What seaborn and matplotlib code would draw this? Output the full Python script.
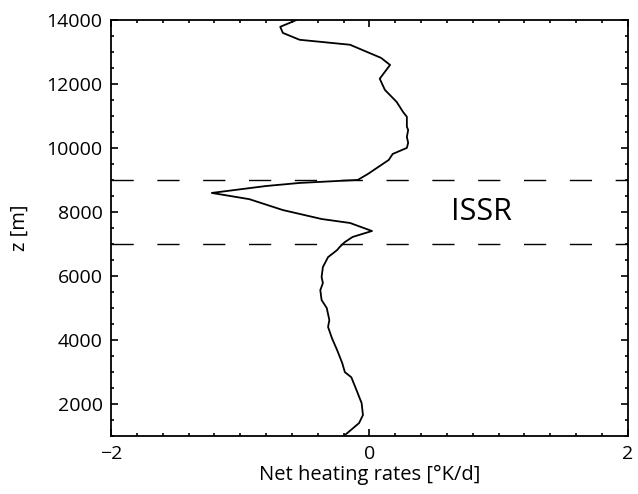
import matplotlib
matplotlib.use("Agg")
import matplotlib.pyplot as plt
import seaborn as sns
from matplotlib.ticker import MultipleLocator

# net heating rate profile (bottom -> top)
heating = [-0.20, -0.08, -0.05, -0.06, -0.10, -0.14, -0.19, -0.21, -0.25, -0.29,
           -0.32, -0.31, -0.33, -0.37, -0.38, -0.36, -0.37, -0.36, -0.32, -0.25,
           -0.23, -0.19, -0.13, 0.02, -0.15, -0.37, -0.67, -0.93, -1.22, -0.80,
           -0.54, -0.09, -0.01, 0.15, 0.18, 0.29, 0.30, 0.29, 0.30, 0.29,
           0.29, 0.26, 0.21, 0.12, 0.08, 0.16, 0.09, -0.15, -0.54, -0.67,
           -0.69, -0.56]
height = [1000, 1410, 1660, 2030, 2440, 2840, 3000, 3280, 3690, 4060,
          4410, 4625, 5000, 5250, 5560, 5780, 5970, 6280, 6590, 6810,
          6906, 7060, 7220, 7406, 7656, 7780, 8060, 8400, 8594, 8810,
          8906, 9000, 9190, 9625, 9810, 10000, 10160, 10340, 10560, 10660,
          10970, 11125, 11440, 11810, 12160, 12590, 12810, 13220, 13375, 13590,
          13780, 14000]

# ice supersaturated region bounds
issr_bounds = [7000, 9000]

sns.set_theme(style="ticks")
plt.rcParams['font.family'] = ['Open Sans', 'DejaVu Sans']
plt.rcParams['text.color'] = 'black'
plt.rcParams['axes.labelcolor'] = 'black'

fig = plt.figure(figsize=(6.38, 4.94), dpi=100)
ax = fig.add_axes([0.174, 0.117, 0.810, 0.843])

sns.lineplot(x=heating, y=height, sort=False, estimator=None, color="black",
             linewidth=1.3, ax=ax)

for b in issr_bounds:
    ax.axhline(b, color="black", linewidth=1.0, dashes=(16, 17))

ax.text(0.87, 8000, "ISSR", fontsize=22, ha="center", va="center")

ax.set_xlim(-2, 2)
ax.set_ylim(1000, 14000)
ax.set_xticks([-2, 0, 2])
ax.set_xticklabels(["\u22122", "0", "2"])
ax.set_yticks([2000, 4000, 6000, 8000, 10000, 12000, 14000])
ax.xaxis.set_minor_locator(MultipleLocator(0.2))
ax.yaxis.set_minor_locator(MultipleLocator(500))
ax.tick_params(which="both", direction="in", top=True, right=True,
               labelsize=14, width=1.2, colors="black", pad=6)
ax.tick_params(which="major", length=5)
ax.tick_params(which="minor", length=2.5)
for s in ax.spines.values():
    s.set_linewidth(1.3)
    s.set_color("black")

ax.set_xlabel("Net heating rates [°K/d]", fontsize=14.5, labelpad=2)
ax.set_ylabel("z [m]", fontsize=14.5, labelpad=12)

fig.savefig("out.png", dpi=100)
